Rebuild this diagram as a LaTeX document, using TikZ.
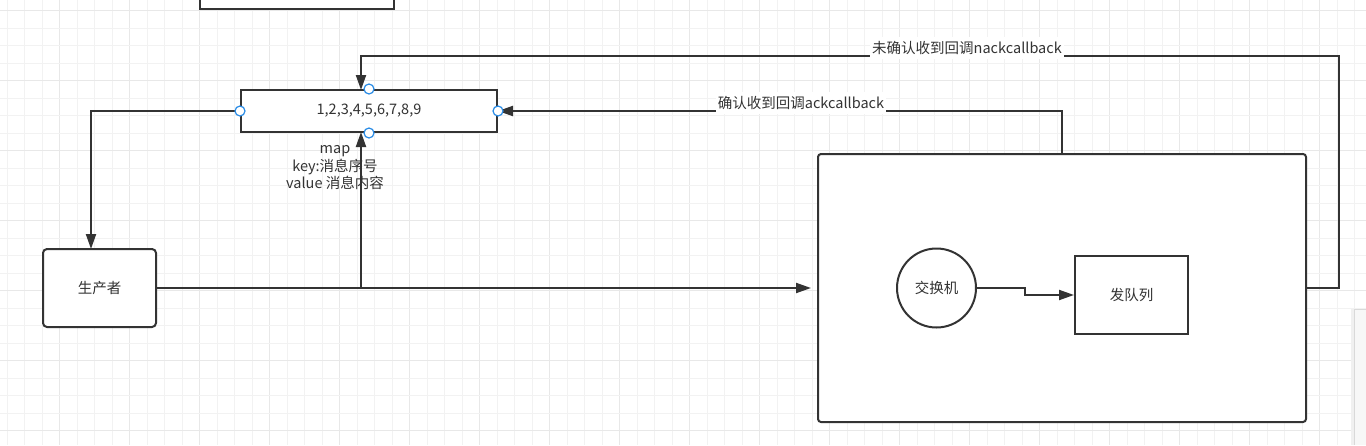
\documentclass[tikz,border=0pt]{standalone}
\usepackage{fontspec}
\setmainfont{Noto Sans CJK SC}
\usetikzlibrary{arrows.meta,calc}
\definecolor{ink}{HTML}{333333}
\definecolor{gridminor}{HTML}{F2F2F2}
\definecolor{gridmajor}{HTML}{E8E8E8}
\definecolor{handle}{HTML}{2A8CE6}
\tikzset{
  conn/.style={draw=ink, line width=2pt, -{Triangle[length=15pt,width=10pt]}},
  plainline/.style={draw=ink, line width=2pt},
  box/.style={draw=ink, line width=2pt, fill=white, inner sep=0pt},
  lbl/.style={text=ink, font=\fontsize{14.5}{17}\selectfont},
  edgelbl/.style={lbl, fill=white, inner xsep=2pt, inner ysep=4pt},
  hdl/.style={circle, draw=handle, fill=white, line width=1.2pt, minimum size=10pt, inner sep=0pt},
}
\begin{document}
\begin{tikzpicture}[x=1pt,y=-1pt]
\useasboundingbox (0,0) rectangle (1366,445);
\fill[white] (0,0) rectangle (1366,445);
% grid
\foreach \i in {0,...,78} {
  \pgfmathtruncatemacro{\m}{mod(\i,4)}
  \ifnum\m=3
    \draw[gridmajor, line width=1pt] ({7.3+17.5*\i},0) -- ({7.3+17.5*\i},445);
  \else
    \draw[gridminor, line width=1pt] ({7.3+17.5*\i},0) -- ({7.3+17.5*\i},445);
  \fi
}
\foreach \j in {0,...,25} {
  \pgfmathtruncatemacro{\m}{mod(\j,4)}
  \ifnum\m=0
    \draw[gridmajor, line width=1pt] (0,{10.7+17.5*\j}) -- (1366,{10.7+17.5*\j});
  \else
    \draw[gridminor, line width=1pt] (0,{10.7+17.5*\j}) -- (1366,{10.7+17.5*\j});
  \fi
}
% side panel
\fill[black!6] (1351,309) rectangle (1354,445);
\fill[black!3] (1354,309) rectangle (1366,445);
\draw[black!15, line width=0.8pt] (1354,309) -- (1354,445);
\draw[black!15, line width=0.8pt] (1354,309) -- (1366,309);

% top partial box
\draw[box] (200,-10) rectangle (394,9);

% nodes
\node[box, minimum width=256pt, minimum height=42pt, lbl] (map) at (369,111) {1,2,3,4,5,6,7,8,9};
\node[box, rounded corners=4pt, minimum width=113pt, minimum height=78pt, lbl] (prod) at (99.5,288) {生产者};
\node[box, rounded corners=3pt, minimum width=488pt, minimum height=268pt] (cont) at (1062,288) {};
\node[box, circle, minimum size=79pt, lbl] (ex) at (936.5,288) {交换机};
\node[box, minimum width=113pt, minimum height=78pt, lbl] (queue) at (1131.5,295) {发队列};

\node[lbl, align=center, inner sep=0pt, font=\fontsize{14.5}{17.5}\selectfont] (note) at (335,168) {map\\key:消息序号\\value 消息内容};

% coordinates
\coordinate (prodtop) at (91,249);
\coordinate (branch) at (361,288);
\coordinate (mapbot) at (361,132);
\coordinate (maptop) at (361,90);
\coordinate (acktop) at (1062,154);
\coordinate (nackr) at (1339,288);
\coordinate (nackc) at (1339,56);
\coordinate (nackl) at (361,56);
\coordinate (exstep) at (1025,288);

% connectors
\draw[conn] (map.west) -| (prodtop);
\draw[plainline] (prod.east) -- (branch);
\draw[conn] (branch) -- (mapbot);
\draw[conn, shorten >=6pt] (prod.east) -- (cont.west);
\draw[conn] (acktop) |- (map.east);
\draw[conn] (cont.east) -- (nackr) -- (nackc) -- (nackl) -- (maptop);
\draw[conn] (ex.east) -- (exstep) |- (queue.west);

% edge labels
\node[edgelbl] (acklbl) at (801,103) {确认收到回调ackcallback};
\node[edgelbl] (nacklbl) at (967,48) {未确认收到回调nackcallback};

% handles
\node[hdl] (h1) at (map.west) {};
\node[hdl] (h2) at (map.east) {};
\node[hdl] (h3) at (map.north) {};
\node[hdl] (h4) at (map.south) {};
\end{tikzpicture}
\end{document}
